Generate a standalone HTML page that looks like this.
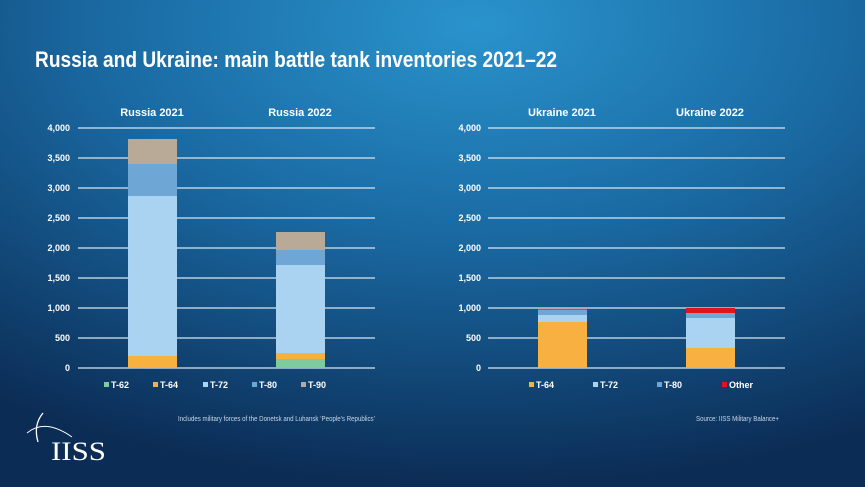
<!DOCTYPE html>
<html><head><meta charset="utf-8"><style>
html,body{margin:0;padding:0;width:865px;height:487px;overflow:hidden;}
svg{display:block}
text{font-family:"Liberation Sans",sans-serif;fill:#fff}
</style></head><body>
<svg width="865" height="487" viewBox="0 0 865 487" xmlns="http://www.w3.org/2000/svg">
<defs>
<radialGradient id="bg" cx="0.55" cy="0.05" r="0.95" fx="0.55" fy="0.05">
<stop offset="0" stop-color="#2a93cc"/>
<stop offset="0.45" stop-color="#1a6aa3"/>
<stop offset="1" stop-color="#0b2c55"/>
</radialGradient>
</defs>
<rect width="865" height="487" fill="url(#bg)"/>
<text x="35" y="67" font-size="22" font-weight="bold" textLength="522" lengthAdjust="spacingAndGlyphs">Russia and Ukraine: main battle tank inventories 2021–22</text>

<g stroke="#d8e6f0" stroke-width="1.2">
<line x1="78" x2="375" y1="128" y2="128"/><line x1="78" x2="375" y1="158" y2="158"/><line x1="78" x2="375" y1="188" y2="188"/><line x1="78" x2="375" y1="218" y2="218"/><line x1="78" x2="375" y1="248" y2="248"/><line x1="78" x2="375" y1="278" y2="278"/><line x1="78" x2="375" y1="308" y2="308"/><line x1="78" x2="375" y1="338" y2="338"/><line x1="78" x2="375" y1="368" y2="368"/>
<line x1="488" x2="785" y1="128" y2="128"/><line x1="488" x2="785" y1="158" y2="158"/><line x1="488" x2="785" y1="188" y2="188"/><line x1="488" x2="785" y1="218" y2="218"/><line x1="488" x2="785" y1="248" y2="248"/><line x1="488" x2="785" y1="278" y2="278"/><line x1="488" x2="785" y1="308" y2="308"/><line x1="488" x2="785" y1="338" y2="338"/><line x1="488" x2="785" y1="368" y2="368"/>
</g>
<g font-size="9" font-weight="bold" text-anchor="end">
<text x="70" y="131">4,000</text><text x="70" y="161">3,500</text><text x="70" y="191">3,000</text><text x="70" y="221">2,500</text><text x="70" y="251">2,000</text><text x="70" y="281">1,500</text><text x="70" y="311">1,000</text><text x="70" y="341">500</text><text x="70" y="371">0</text>
<text x="481" y="131">4,000</text><text x="481" y="161">3,500</text><text x="481" y="191">3,000</text><text x="481" y="221">2,500</text><text x="481" y="251">2,000</text><text x="481" y="281">1,500</text><text x="481" y="311">1,000</text><text x="481" y="341">500</text><text x="481" y="371">0</text>
</g>
<g font-size="11" font-weight="bold" text-anchor="middle">
<text x="152" y="116">Russia 2021</text><text x="300" y="116">Russia 2022</text>
<text x="562" y="116">Ukraine 2021</text><text x="710" y="116">Ukraine 2022</text>
</g>
<rect x="128" y="356" width="49" height="12" fill="#f8b040"/>
<rect x="128" y="196" width="49" height="160" fill="#a9d3f0"/>
<rect x="128" y="164" width="49" height="32" fill="#6ea6d6"/>
<rect x="128" y="139" width="49" height="25" fill="#b9aa98"/>
<rect x="276" y="359" width="49" height="9" fill="#7ecb9f"/>
<rect x="276" y="353" width="49" height="6" fill="#f8b040"/>
<rect x="276" y="265" width="49" height="88" fill="#a9d3f0"/>
<rect x="276" y="250" width="49" height="15" fill="#6ea6d6"/>
<rect x="276" y="232" width="49" height="18" fill="#b9aa98"/>
<rect x="538" y="322" width="49" height="46" fill="#f8b040"/>
<rect x="538" y="315" width="49" height="7" fill="#a9d3f0"/>
<rect x="538" y="310" width="49" height="5" fill="#6ea6d6"/>
<rect x="538" y="308.6" width="49" height="1.4" fill="#c4505a"/>
<rect x="686" y="348" width="49" height="20" fill="#f8b040"/>
<rect x="686" y="318" width="49" height="30" fill="#a9d3f0"/>
<rect x="686" y="313" width="49" height="5" fill="#6ea6d6"/>
<rect x="686" y="308" width="49" height="5" fill="#e0141e"/>
<g font-size="9" font-weight="bold">
<rect x="104" y="382" width="5" height="5" fill="#7ecb9f"/><text x="111" y="388">T-62</text>
<rect x="153" y="382" width="5" height="5" fill="#f8b040"/><text x="160" y="388">T-64</text>
<rect x="203" y="382" width="5" height="5" fill="#a9d3f0"/><text x="210" y="388">T-72</text>
<rect x="252" y="382" width="5" height="5" fill="#6ea6d6"/><text x="259" y="388">T-80</text>
<rect x="301" y="382" width="5" height="5" fill="#b9aa98"/><text x="308" y="388">T-90</text>
<rect x="529" y="382" width="5" height="5" fill="#f8b040"/><text x="536" y="388">T-64</text>
<rect x="593" y="382" width="5" height="5" fill="#a9d3f0"/><text x="600" y="388">T-72</text>
<rect x="657" y="382" width="5" height="5" fill="#6ea6d6"/><text x="664" y="388">T-80</text>
<rect x="722" y="382" width="5" height="5" fill="#e0141e"/><text x="729" y="388">Other</text>
</g>
<g font-size="7">
<text x="375" y="421" text-anchor="end" style="fill:#c8d8e6" textLength="197" lengthAdjust="spacingAndGlyphs">Includes military forces of the Donetsk and Luhansk ‘People’s Republics’</text>
<text x="779" y="421" text-anchor="end" style="fill:#c8d8e6" textLength="83" lengthAdjust="spacingAndGlyphs">Source: IISS Military Balance+</text>
</g>
<path d="M43 413 Q33 425 38 442" stroke="#fff" stroke-width="1.3" fill="none"/>
<path d="M27 433 Q45 418 72 437" stroke="#fff" stroke-width="0.9" fill="none"/>
<text x="51" y="460" font-size="26" style="font-family:'Liberation Serif',serif" textLength="55" lengthAdjust="spacingAndGlyphs">IISS</text>
</svg>
</body></html>
